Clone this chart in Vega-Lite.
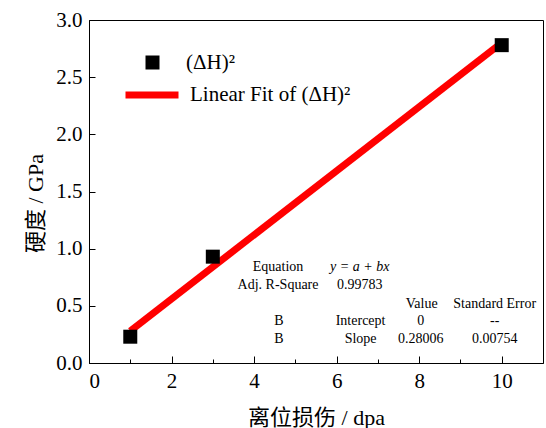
{
  "$schema": "https://vega.github.io/schema/vega-lite/v6.json",
  "width": 454,
  "height": 343,
  "autosize": {"type": "none"},
  "padding": {"left": 89, "top": 20, "right": 3, "bottom": 65},
  "background": "white",
  "config": {
    "view": {"stroke": "black", "strokeWidth": 1},
    "font": "Liberation Serif",
    "axis": {
      "grid": false,
      "domainColor": "black",
      "domainWidth": 1,
      "tickColor": "black",
      "tickWidth": 1,
      "labelColor": "black",
      "titleColor": "black",
      "labelFont": "Liberation Serif",
      "labelFontSize": 21,
      "titleFont": "Liberation Serif, Noto Sans CJK SC",
      "titleFontSize": 22,
      "titleFontWeight": "normal"
    },
    "legend": {"padding": 0, "labelFont": "Liberation Serif", "labelFontSize": 21, "labelColor": "black", "labelLimit": 400}
  },
  "datasets": {
    "pts": [
      {"dpa": 1, "h": 0.23, "s": "(ΔH)²"},
      {"dpa": 3, "h": 0.93, "s": "(ΔH)²"},
      {"dpa": 10, "h": 2.78, "s": "(ΔH)²"}
    ],
    "fit": [
      {"dpa": 1, "h": 0.28006, "s": "Linear Fit of (ΔH)²"},
      {"dpa": 10, "h": 2.8006, "s": "Linear Fit of (ΔH)²"}
    ],
    "table": [
      {"x": 4.58, "y": 0.84, "t": "Equation"},
      {"x": 4.58, "y": 0.68, "t": "Adj. R-Square"},
      {"x": 6.56, "y": 0.68, "t": "0.99783"},
      {"x": 8.06, "y": 0.52, "t": "Value"},
      {"x": 9.83, "y": 0.52, "t": "Standard Error"},
      {"x": 4.6, "y": 0.37, "t": "B"},
      {"x": 6.58, "y": 0.37, "t": "Intercept"},
      {"x": 8.04, "y": 0.37, "t": "0"},
      {"x": 9.83, "y": 0.37, "t": "--"},
      {"x": 4.6, "y": 0.21, "t": "B"},
      {"x": 6.58, "y": 0.21, "t": "Slope"},
      {"x": 8.04, "y": 0.21, "t": "0.28006"},
      {"x": 9.83, "y": 0.21, "t": "0.00754"}
    ],
    "eq": [
      {"x": 6.56, "y": 0.84, "t": "y = a + bx"}
    ]
  },
  "layer": [
    {
      "data": {"name": "fit"},
      "mark": {"type": "line", "strokeWidth": 7, "strokeCap": "butt"},
      "encoding": {
        "x": {
          "field": "dpa", "type": "quantitative",
          "scale": {"domain": [0, 11], "nice": false},
          "axis": {
            "title": "离位损伤 / dpa",
            "values": [0, 1, 2, 3, 4, 5, 6, 7, 8, 9, 10],
            "labelExpr": "datum.value % 2 === 0 ? datum.label : ''",
            "tickSize": {"condition": {"test": "datum.value % 2 === 0", "value": -7}, "value": -4},
            "labelPadding": 14,
            "titlePadding": 16
          }
        },
        "y": {
          "field": "h", "type": "quantitative",
          "scale": {"domain": [0, 3], "nice": false},
          "axis": {
            "title": "硬度 / GPa",
            "values": [0, 0.25, 0.5, 0.75, 1, 1.25, 1.5, 1.75, 2, 2.25, 2.5, 2.75, 3],
            "labelExpr": "(datum.value * 2) % 1 === 0 ? format(datum.value, '.1f') : ''",
            "tickSize": {"condition": {"test": "(datum.value * 2) % 1 === 0", "value": -6}, "value": -3},
            "labelPadding": 13,
            "titleX": -54,
            "titleY": 183,
            "titleAngle": 270,
            "titleAlign": "center",
            "titleBaseline": "middle"
          }
        },
        "stroke": {
          "field": "s", "type": "nominal",
          "scale": {"range": ["#ff0000"]},
          "legend": {
            "title": null, "orient": "none", "legendX": 33, "legendY": 45,
            "symbolType": "stroke", "symbolSize": 2809, "symbolStrokeWidth": 7,
            "labelOffset": 8
          }
        }
      }
    },
    {
      "data": {"name": "pts"},
      "mark": {"type": "square", "size": 196, "filled": true, "opacity": 1},
      "encoding": {
        "x": {"field": "dpa", "type": "quantitative"},
        "y": {"field": "h", "type": "quantitative"},
        "fill": {
          "field": "s", "type": "nominal",
          "scale": {"range": ["#000000"]},
          "legend": {
            "title": null, "orient": "none", "legendX": 53, "legendY": 32,
            "symbolType": "square", "symbolSize": 196, "symbolStrokeWidth": 0,
            "labelOffset": 23
          }
        }
      }
    },
    {
      "data": {"name": "table"},
      "mark": {"type": "text", "fontSize": 14, "font": "Liberation Serif", "align": "center", "baseline": "middle", "color": "black"},
      "encoding": {
        "x": {"field": "x", "type": "quantitative"},
        "y": {"field": "y", "type": "quantitative"},
        "text": {"field": "t"}
      }
    },
    {
      "data": {"name": "eq"},
      "mark": {"type": "text", "fontSize": 14, "font": "Liberation Serif", "fontStyle": "italic", "align": "center", "baseline": "middle", "color": "black"},
      "encoding": {
        "x": {"field": "x", "type": "quantitative"},
        "y": {"field": "y", "type": "quantitative"},
        "text": {"field": "t"}
      }
    }
  ]
}
